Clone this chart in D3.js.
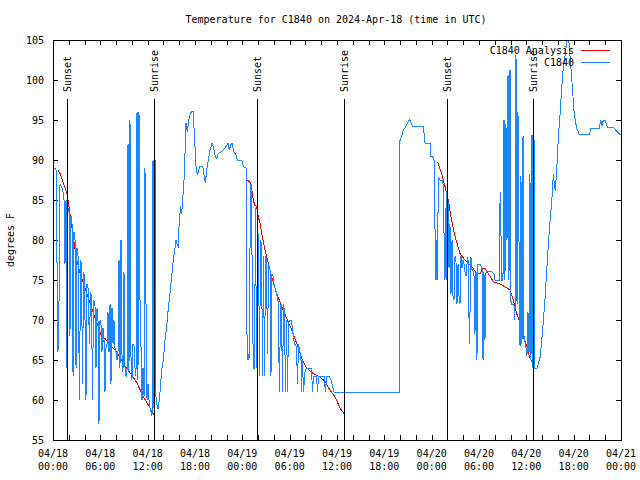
<!DOCTYPE html>
<html><head><meta charset="utf-8">
<script src="https://cdn.jsdelivr.net/npm/d3@7"></script>
<style>
body{margin:0;background:#fff}
svg{display:block}
text{font-family:"DejaVu Sans Mono",monospace;font-size:10px;fill:#000}
</style>
</head><body>
<svg id="c" width="640" height="480"></svg>
<script>
// ---------------- DATA ----------------
const chartTitle = "Temperature for C1840 on 2024-Apr-18 (time in UTC)";
const yLabel = "degrees F";
const seriesNames = ["C1840 Analysis", "C1840"];
const yTickValues = [55, 60, 65, 70, 75, 80, 85, 90, 95, 100, 105];
const xMajorTickHours = [0, 6, 12, 18, 24, 30, 36, 42, 48, 54, 60, 66, 72];
const xMinorTickHours = d3.range(0, 73, 2);
const sunsetHours = [1.81, 25.9, 49.98];
const sunriseHours = [12.84, 36.89, 60.88];
const sunLineTopTemp = 97.6;

// C1840 observations: [hours since 2024-04-18 00:00 UTC, degrees F]
const c1840Obs = [
[0.13,89],[0.38,89],[0.51,77],[0.63,66],[0.76,72],[0.89,87],[1.14,86.5],[1.39,85.5],[1.52,77],[1.65,85],[1.71,64],[1.84,85],
[1.90,84],[2.03,83.5],[2.15,68],[2.28,83],[2.41,82],[2.54,63],[2.66,81],[2.79,80],[2.92,64],[3.04,79],[3.17,78],[3.36,60],
[3.49,77.5],[3.61,77],[3.74,62],[3.87,76],[3.99,75.5],[4.18,60],[4.31,74.5],[4.44,74],[4.63,67],[4.75,73.5],[4.88,73],[5.01,60],
[5.13,72.5],[5.32,72],[5.45,64],[5.58,71.5],[5.70,70.5],[5.83,57],[5.96,70],[6.08,69.5],[6.21,66],[6.34,69],
[6.46,68],[6.59,61],[6.72,66.5],[6.85,67],[6.97,71],[7.10,66],[7.23,72],[7.35,62],[7.48,71.5],[7.61,67],[7.73,70],[7.86,66.5],
[7.99,66],[8.11,65],[8.24,66],[8.37,77.5],[8.49,64],[8.62,80],[8.75,65.5],[8.87,63.5],[9.00,76],[9.13,64],[9.25,63],[9.38,63],
[9.51,92],[9.63,63.5],[9.76,95],[9.89,65],[10.01,62.5],[10.14,67],[10.27,66.7],[10.39,64],[10.52,63],[10.65,96],[10.77,62.5],
[10.90,96],[11.03,72.5],[11.15,67],[11.28,60],[11.41,64],[11.54,60.5],[11.66,89],[11.79,72],[11.92,60],[12.04,62],[12.17,60],
[12.30,59],[12.42,58.5],[12.55,58],[12.68,90],[12.80,59],[12.93,90],[13.06,60],[13.25,59],[13.37,59],
[13.56,61],[13.78,63.7],[13.98,65],[14.20,67.5],[14.41,69.2],[14.62,71.5],[14.83,73.3],[15.05,75.5],[15.25,77.5],[15.46,79],
[15.59,80],[15.72,79.5],[15.88,79.2],[16.01,82.5],[16.19,84.2],[16.31,83.3],[16.44,85],[16.61,87.5],[16.73,90.8],[16.86,94.6],
[17.02,93.5],[17.15,94.5],[17.28,95.4],[17.43,95.8],[17.58,96.1],[17.78,96.1],[17.91,93.3],[18.13,89.2],[18.29,88.1],[18.47,88.75],
[18.63,89.2],[18.98,89.2],[19.18,87.9],[19.31,87.1],[19.48,88.75],[19.69,90],[19.90,91.25],[20.16,92.1],[20.32,91.7],[20.57,90.4],
[20.75,90.2],[20.95,90.8],[21.26,91],[21.59,91.25],[21.93,91.7],[22.18,92.1],[22.35,91.25],[22.53,91.9],[22.69,92.1],[22.94,91],
[23.20,90.6],[23.36,90],[23.92,90],[24.12,89.2],[24.47,89],
[24.53,72],[24.63,66],[24.72,65],[24.81,65.8],[24.88,65.3],[25.03,87],[25.16,87],[25.29,70],[25.42,64],[25.54,64],[25.67,84],
[25.80,64],[25.92,81],[26.05,80.4],[26.18,63],[26.30,80],[26.43,79.5],[26.56,63],[26.68,78],[26.81,63],[26.94,78],[27.06,77.5],
[27.19,65.8],[27.32,77],[27.44,76.5],[27.57,76],[27.63,63],[27.76,75.8],[27.89,75.5],[28.01,74.5],[28.14,74],[28.27,73.5],
[28.39,73],[28.52,72.5],[28.71,61],[28.84,72],[28.96,72],[29.09,61],[29.22,72],[29.34,71],[29.47,61],[29.60,70],[29.73,61],
[29.85,69.6],[30.04,70],[30.23,70],[30.42,68.3],[30.61,67],[30.87,66.7],[30.99,62],[31.12,67],[31.31,66],[31.44,65],[31.50,61],
[31.63,65],[31.75,61],[31.94,63.5],[32.13,64],[32.32,64],[32.58,64],[32.77,64],[32.89,61],[33.02,63],[33.21,63],[33.40,63],
[33.53,61],[33.65,63],[33.85,63],[34.10,63],[34.35,63],[34.54,61],[34.67,63],[34.99,63],[35.24,62.5],[35.49,61.5],[35.62,61],
[43.90,61],[43.92,92.3],[44.20,92.9],[44.40,93.75],[44.62,94],[44.84,94.4],[45.16,95.1],[45.32,94.8],[45.60,94.2],[46.94,94.2],
[47.16,92.1],[47.79,92.1],[47.92,90.4],[48.13,90.4],[48.30,90],[48.36,88.3],[48.46,77.5],[48.55,75],[48.64,80],[48.74,75],
[48.84,87.9],[49.06,87.5],[49.31,87.5],[49.50,86.7],[49.63,75],[49.75,84],[49.82,75],[49.94,86],[50.07,85],[50.20,76.5],
[50.32,82],[50.45,73.3],[50.58,80],[50.70,73],[50.83,72.5],[50.96,78],[51.08,77.5],[51.21,72],[51.34,77],[51.46,73],[51.59,72],
[51.72,78],[51.84,76.5],[51.97,77.5],[52.10,77],[52.22,76],[52.35,75.5],[52.48,77],[52.60,77.9],[52.79,67],[52.98,77.9],
[53.11,76.3],[53.36,76],[53.49,68.3],[53.62,76],[53.74,65],[53.87,77],[54.13,77],[54.38,76.5],[54.51,65],[54.63,76],[54.76,67.5],
[54.89,76],[55.14,76.1],[55.40,76.1],[55.65,76],[55.90,75.8],[56.03,75],[56.54,75],[56.60,83.3],[56.73,86],[56.85,75],[57.04,75],
[57.17,95],[57.29,75],[57.42,94.5],[57.55,80],[57.68,100.6],[57.80,75],[57.93,101.25],[58.06,72],[58.31,72],[58.44,71.7],
[58.56,70],[58.69,103.1],[58.82,72],[58.94,96],[59.07,80],[59.20,66.7],[59.32,88],[59.45,67],[59.58,93],[59.70,68],[59.96,66.5],
[60.08,65.5],[60.21,71],[60.34,66],[60.46,88.3],[60.59,65],[60.72,93.1],[60.84,64],[60.97,93],[61.09,64],[61.35,64],[61.51,64.5],
[61.73,65.25],[61.94,67.3],[62.15,69.8],[62.37,72.7],[62.58,76.1],[62.79,79.4],[63.00,82.3],[63.22,84.8],[63.42,88.2],[63.55,87],
[63.68,86.1],[63.76,87.5],[63.85,88.7],[64.05,92.75],[64.27,95.6],[64.48,99],[64.68,101.5],[64.90,103],[65.11,104.7],[65.24,105.5],
[65.40,104.7],[65.62,102],[65.87,98.6],[66.08,95.6],[66.38,94],[66.71,93.2],[67.98,93.2],[68.20,94],[69.25,94],[69.43,95],
[69.59,94.2],[69.76,95],[69.97,95],[70.26,94.1],[71.02,94.1],[71.28,93.8],[71.66,93.4],[71.97,93.1]
];

// C1840 Analysis (night-time segments)
const analysisNight1 = [
[0.63,88.75],[0.9,88.3],[1.2,87.5],[1.5,86.6],[1.81,85.6],[2.1,83.6],[2.41,81.5],[3.0,77.5],[3.51,75.6],[4.27,73.4],
[5.11,70.9],[5.96,68.5],[6.38,67.3],[6.6,67.7],[6.81,67.4],[7.23,66.9],[8.07,66.0],[8.91,64.6],[9.76,63.4],[10.61,62.2],
[11.45,60.4],[12.3,59.0],[12.8,58.1]
];
const analysisNight2 = [
[24.63,87.5],[25.06,87.1],[25.2,86.3],[25.39,85],[25.6,84.3],[25.82,84.2],[26.0,83],[26.24,82.1],[26.46,80.8],[26.87,78.75],
[27.29,77.1],[27.72,75.4],[28.36,73.3],[28.99,71.7],[29.62,70.2],[30.26,68.75],[30.89,67.1],[31.53,65.2],[32.16,64.0],
[32.99,63.3],[33.84,62.9],[34.48,62.3],[35.11,61.25],[35.75,60.4],[36.38,59.0],[36.89,58.3]
];
const analysisNight3 = [
[48.76,89.8],[49.27,88.3],[49.69,86.7],[50.11,85],[50.45,82.9],[50.87,80.8],[51.59,78.3],[52.22,77.5],[53.07,76.7],
[53.71,75.8],[54.13,75.8],[54.5,76.5],[54.76,76.5],[55.18,75.8],[55.81,74.8],[56.88,74.4],[57.93,73.75],[58.35,72.5],
[58.78,70.8],[59.2,69.6],[59.62,67.9],[60.05,66.7],[60.47,65.2],[60.89,64.4]
];

// ---------------- CHART ----------------
const T0 = Date.UTC(2024, 3, 18, 0, 0);
const toDate = h => new Date(T0 + h * 3600e3);
const L = 53, R = 621, TOP = 40, BOT = 440;
const x = d3.scaleUtc().domain([toDate(0), toDate(72)]).range([L, R]);
const y = d3.scaleLinear().domain([55, 105]).range([BOT, TOP]);

const svg = d3.select("#c");
svg.append("rect").attr("width", 640).attr("height", 480).attr("fill", "#fff");
svg.append("defs").append("clipPath").attr("id", "plotclip")
  .append("rect").attr("x", L).attr("y", TOP).attr("width", R - L).attr("height", BOT - TOP);

// ticks (inward, mirrored)
const minorDates = xMinorTickHours.map(toDate);
const majorDates = xMajorTickHours.map(toDate);
function styleAxis(g) {
  g.select(".domain").remove();
  g.selectAll(".tick line").attr("stroke", "#000").attr("shape-rendering", "crispEdges");
  g.selectAll(".tick text").remove();
}
svg.append("g").attr("transform", `translate(0,${BOT})`)
  .call(d3.axisBottom(x).tickValues(minorDates).tickSize(-5)).call(styleAxis);
svg.append("g").attr("transform", `translate(0,${TOP})`)
  .call(d3.axisTop(x).tickValues(minorDates).tickSize(-5)).call(styleAxis);
svg.append("g").attr("transform", `translate(${L},0)`)
  .call(d3.axisLeft(y).tickValues(yTickValues).tickSize(-5)).call(styleAxis);
svg.append("g").attr("transform", `translate(${R},0)`)
  .call(d3.axisRight(y).tickValues(yTickValues).tickSize(-5)).call(styleAxis);

// y tick labels
svg.append("g").selectAll("text").data(yTickValues).join("text")
  .attr("x", L - 9).attr("y", d => y(d) + 3.5).attr("text-anchor", "end").text(d => d);

// x tick labels (two lines)
const fmtDay = d3.utcFormat("%m/%d"), fmtTime = d3.utcFormat("%H:%M");
const xl = svg.append("g").selectAll("text").data(majorDates).join("text")
  .attr("text-anchor", "middle");
xl.append("tspan").attr("x", d => x(d)).attr("y", 457).text(d => fmtDay(d));
xl.append("tspan").attr("x", d => x(d)).attr("y", 470).text(d => fmtTime(d));

// title & y label
svg.append("text").attr("x", 336).attr("y", 23).attr("text-anchor", "middle").text(chartTitle);
svg.append("text").attr("transform", "translate(13.5,240) rotate(-90)").attr("text-anchor", "middle").text(yLabel);

// data
const plot = svg.append("g").attr("clip-path", "url(#plotclip)");
const line = d3.line().x(d => x(toDate(d[0]))).y(d => y(d[1]));
[analysisNight1, analysisNight2, analysisNight3].forEach(seg => {
  plot.append("path").datum(seg).attr("d", line).attr("fill", "none")
    .attr("stroke", "#ff0000").attr("stroke-width", 1).attr("shape-rendering", "crispEdges");
});
plot.append("path").datum(c1840Obs).attr("d", line).attr("fill", "none")
  .attr("stroke", "#1a86ff").attr("stroke-width", 1).attr("shape-rendering", "crispEdges");

// sunset / sunrise markers
const sunEvents = sunsetHours.map(h => ({h, label: "Sunset"}))
  .concat(sunriseHours.map(h => ({h, label: "Sunrise"})));
svg.append("g").selectAll("line").data(sunEvents).join("line")
  .attr("x1", d => x(toDate(d.h))).attr("x2", d => x(toDate(d.h)))
  .attr("y1", y(sunLineTopTemp)).attr("y2", y(55))
  .attr("stroke", "#000").attr("stroke-width", 1).attr("shape-rendering", "crispEdges");
svg.append("g").selectAll("text").data(sunEvents).join("text")
  .attr("transform", d => `translate(${x(toDate(d.h)) + 4},92) rotate(-90)`)
  .attr("text-anchor", "start").text(d => d.label);

// legend
const legendColors = ["#ff0000", "#1a86ff"];
const lg = svg.append("g");
seriesNames.forEach((name, i) => {
  const yy = 50 + i * 12.5;
  lg.append("text").attr("x", 574).attr("y", yy + 3.5).attr("text-anchor", "end").text(name);
  lg.append("line").attr("x1", 581).attr("x2", 610).attr("y1", yy).attr("y2", yy)
    .attr("stroke", legendColors[i]).attr("stroke-width", 1).attr("shape-rendering", "crispEdges");
});

// frame
svg.append("rect").attr("x", L).attr("y", TOP).attr("width", R - L).attr("height", BOT - TOP)
  .attr("fill", "none").attr("stroke", "#000").attr("stroke-width", 1).attr("shape-rendering", "crispEdges");
</script>
</body></html>
